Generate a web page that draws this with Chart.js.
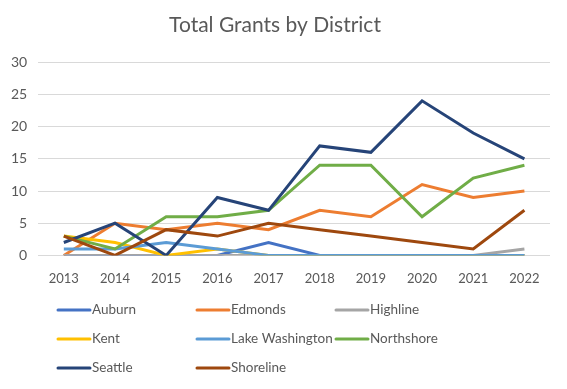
<!DOCTYPE html>
<html lang="en">
<head>
<meta charset="UTF-8" />
<title>Total Grants by District</title>
<script src="https://cdn.jsdelivr.net/npm/chart.js"></script>
<style>
    html, body { margin: 0; padding: 0; background: #ffffff; }
    #wrap { width: 567px; height: 389px; }
</style>
</head>
<body>
<div id="wrap"><canvas id="grantsChart" width="567" height="389"></canvas></div>
<script>
    // values
    const years = ["2013", "2014", "2015", "2016", "2017", "2018", "2019", "2020", "2021", "2022"];
    const auburn = [0, 0, 0, 0, 2, 0, 0, 0, 0, 0];
    const edmonds = [0, 5, 4, 5, 4, 7, 6, 11, 9, 10];
    const highline = [0, 0, 0, 0, 0, 0, 0, 0, 0, 1];
    const kent = [3, 2, 0, 1, 0, 0, 0, 0, 0, 0];
    const lakeWashington = [1, 1, 2, 1, 0, 0, 0, 0, 0, 0];
    const northshore = [3, 1, 6, 6, 7, 14, 14, 6, 12, 14];
    const seattle = [2, 5, 0, 9, 7, 17, 16, 24, 19, 15];
    const shoreline = [3, 0, 4, 3, 5, 4, 3, 2, 1, 7];

    const series = [
        ["Auburn", auburn, "#4472C4"],
        ["Edmonds", edmonds, "#ED7D31"],
        ["Highline", highline, "#A5A5A5"],
        ["Kent", kent, "#FFC000"],
        ["Lake Washington", lakeWashington, "#5B9BD5"],
        ["Northshore", northshore, "#70AD47"],
        ["Seattle", seattle, "#264478"],
        ["Shoreline", shoreline, "#9E480E"],
    ];

    const textColor = "#595959";
    const font = "Lato, 'Open Sans', sans-serif";

    // legend laid out as a 3 column grid like the original
    const gridLegend = {
        id: "gridLegend",
        afterDraw(chart) {
            const ctx = chart.ctx;
            const colX = [58, 197, 336];
            const rowY = [310, 339, 368];
            ctx.save();
            ctx.font = "13.5px " + font;
            ctx.textBaseline = "middle";
            chart.data.datasets.forEach((ds, i) => {
                const x = colX[i % 3];
                const y = rowY[Math.floor(i / 3)];
                ctx.strokeStyle = ds.borderColor;
                ctx.lineWidth = 3;
                ctx.lineCap = "round";
                ctx.beginPath();
                ctx.moveTo(x, y);
                ctx.lineTo(x + 32, y);
                ctx.stroke();
                ctx.fillStyle = textColor;
                ctx.fillText(ds.label, x + 34, y);
            });
            ctx.restore();
        },
    };

    new Chart(document.getElementById("grantsChart").getContext("2d"), {
        type: "line",
        data: {
            labels: years,
            datasets: series.map(([name, values, color], i) => ({
                label: name,
                data: values,
                borderColor: color,
                backgroundColor: color,
                borderWidth: 3,
                pointRadius: 0,
                tension: 0,
                order: series.length - i,
            })),
        },
        options: {
            responsive: false,
            animation: false,
            layout: { padding: { left: 0, right: 17, top: 0, bottom: 94 } },
            plugins: {
                legend: { display: false },
                tooltip: { enabled: false },
                title: {
                    display: true,
                    text: "Total Grants by District",
                    color: textColor,
                    font: { family: font, size: 21, weight: "normal" },
                    padding: { top: 13, bottom: 24 },
                },
            },
            scales: {
                x: {
                    offset: true,
                    grid: { display: false },
                    border: { display: false },
                    ticks: { color: textColor, font: { family: font, size: 13 }, padding: 8 },
                },
                y: {
                    min: 0,
                    max: 30,
                    ticks: { stepSize: 5, color: textColor, font: { family: font, size: 14 }, padding: 11 },
                    grid: { color: "#D9D9D9", drawTicks: false },
                    border: { display: false },
                },
            },
        },
        plugins: [gridLegend],
    });
</script>
</body>
</html>
